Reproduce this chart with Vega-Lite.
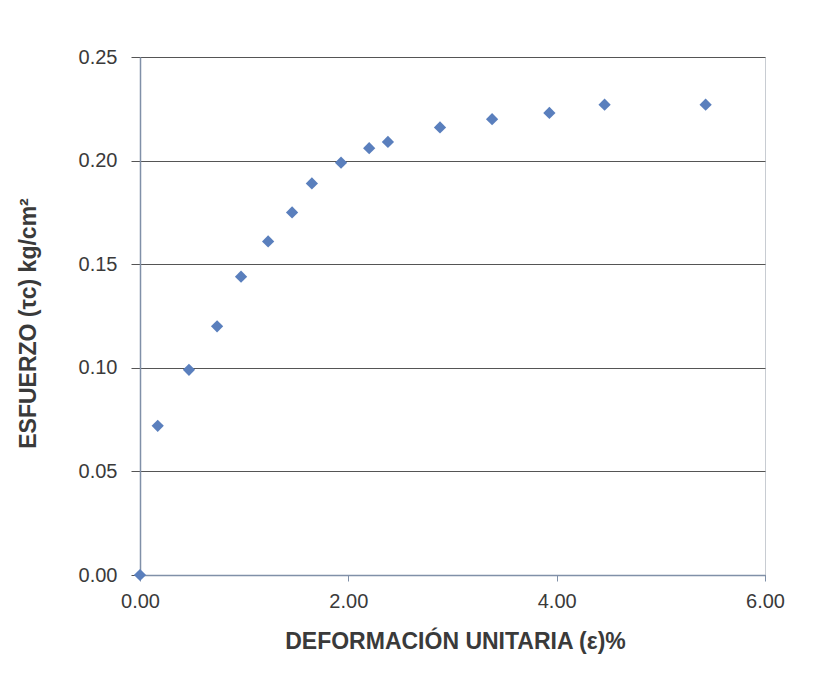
{
  "$schema": "https://vega.github.io/schema/vega-lite/v6.json",
  "width": 625,
  "height": 518,
  "autosize": {"type": "none"},
  "padding": {"left": 140, "top": 57, "right": 50, "bottom": 118},
  "background": "white",
  "config": {
    "font": "Liberation Sans",
    "view": {"stroke": "#c8ccd2", "strokeWidth": 1}
  },
  "data": {
    "values": [
      {"deformacion": 0.0, "esfuerzo": 0.0},
      {"deformacion": 0.17, "esfuerzo": 0.072},
      {"deformacion": 0.47, "esfuerzo": 0.099},
      {"deformacion": 0.74, "esfuerzo": 0.120},
      {"deformacion": 0.97, "esfuerzo": 0.144},
      {"deformacion": 1.23, "esfuerzo": 0.161},
      {"deformacion": 1.46, "esfuerzo": 0.175},
      {"deformacion": 1.65, "esfuerzo": 0.189},
      {"deformacion": 1.93, "esfuerzo": 0.199},
      {"deformacion": 2.20, "esfuerzo": 0.206},
      {"deformacion": 2.38, "esfuerzo": 0.209},
      {"deformacion": 2.88, "esfuerzo": 0.216},
      {"deformacion": 3.38, "esfuerzo": 0.220},
      {"deformacion": 3.93, "esfuerzo": 0.223},
      {"deformacion": 4.46, "esfuerzo": 0.227},
      {"deformacion": 5.43, "esfuerzo": 0.227}
    ]
  },
  "mark": {"type": "point", "shape": "diamond", "filled": true, "color": "#5a7fbd", "size": 150, "opacity": 1},
  "encoding": {
    "x": {
      "field": "deformacion",
      "type": "quantitative",
      "scale": {"domain": [0, 6], "nice": false, "zero": true},
      "axis": {
        "title": "DEFORMACIÓN UNITARIA (ε)%",
        "values": [0, 2, 4, 6],
        "format": ".2f",
        "grid": false,
        "labelFlush": false,
        "domainColor": "#8090a8",
        "domainWidth": 1.5,
        "tickColor": "#8090a8",
        "tickSize": 6,
        "labelFontSize": 20,
        "labelColor": "#3a3a3a",
        "labelPadding": 10,
        "titleFontSize": 23,
        "titleFontWeight": "bold",
        "titleColor": "#3a3a3a",
        "titleX": 315,
        "titleY": 66,
        "titleBaseline": "middle"
      }
    },
    "y": {
      "field": "esfuerzo",
      "type": "quantitative",
      "scale": {"domain": [0, 0.25], "nice": false},
      "axis": {
        "title": "ESFUERZO (τc) kg/cm²",
        "values": [0, 0.05, 0.1, 0.15, 0.2, 0.25],
        "format": ".2f",
        "grid": true,
        "labelFlush": false,
        "gridColor": "#555555",
        "gridWidth": 1,
        "domainColor": "#8090a8",
        "domainWidth": 1.5,
        "tickColor": "#555555",
        "tickSize": 9,
        "labelFontSize": 20,
        "labelColor": "#3a3a3a",
        "labelPadding": 14,
        "titleFontSize": 23,
        "titleFontWeight": "bold",
        "titleColor": "#3a3a3a",
        "titleX": -112,
        "titleY": 266,
        "titleBaseline": "middle",
        "titleAngle": -90
      }
    }
  }
}
